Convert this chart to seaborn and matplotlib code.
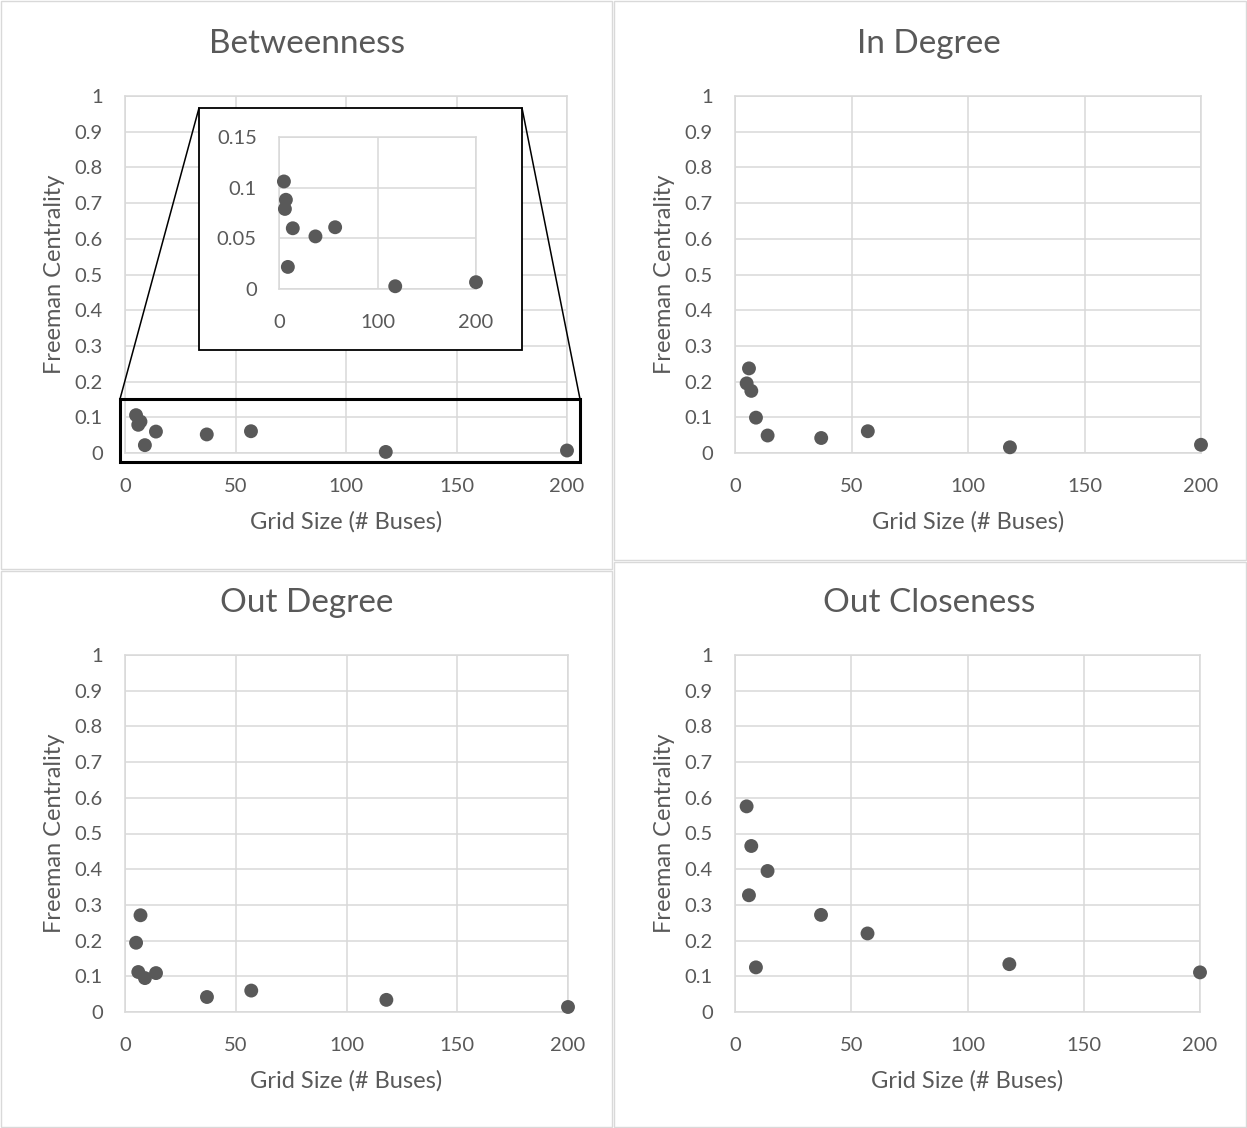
import matplotlib
matplotlib.use("Agg")
import matplotlib.pyplot as plt
import seaborn as sns
import pandas as pd
from matplotlib.patches import Rectangle
from matplotlib.lines import Line2D

# ---------------- data ----------------
grid_size = [5, 6, 7, 9, 14, 37, 57, 118, 200]
betweenness = [0.106, 0.079, 0.088, 0.022, 0.060, 0.052, 0.061, 0.003, 0.007]
in_degree = [0.195, 0.237, 0.174, 0.099, 0.049, 0.042, 0.061, 0.016, 0.023]
out_degree = [0.194, 0.112, 0.271, 0.095, 0.109, 0.042, 0.060, 0.034, 0.014]
out_closeness = [0.576, 0.327, 0.465, 0.125, 0.395, 0.272, 0.220, 0.134, 0.111]

titles = ["Betweenness", "In Degree", "Out Degree", "Out Closeness"]
x_label = "Grid Size (# Buses)"
y_label = "Freeman Centrality"
x_ticks = [0, 50, 100, 150, 200]
x_tick_labels = ["0", "50", "100", "150", "200"]
y_ticks = [0, 0.1, 0.2, 0.3, 0.4, 0.5, 0.6, 0.7, 0.8, 0.9, 1.0]
y_tick_labels = ["0", "0.1", "0.2", "0.3", "0.4", "0.5", "0.6", "0.7", "0.8", "0.9", "1"]
inset_x_ticks = [0, 100, 200]
inset_x_tick_labels = ["0", "100", "200"]
inset_y_ticks = [0, 0.05, 0.1, 0.15]
inset_y_tick_labels = ["0", "0.05", "0.1", "0.15"]

df = pd.DataFrame({
    "grid_size": grid_size,
    "Betweenness": betweenness,
    "In Degree": in_degree,
    "Out Degree": out_degree,
    "Out Closeness": out_closeness,
})

# ---------------- style ----------------
sns.set_theme(style="white")
plt.rcParams['font.family'] = ['Lato', 'DejaVu Sans']

TXT = "#595959"
GRID = "#d9d9d9"
DOT = "#595959"

W, H = 1247, 1128
fig = plt.figure(figsize=(W / 100, H / 100), dpi=100)
fig.patch.set_facecolor("white")


def box(l, t, r, b):
    return [l / W, 1 - b / H, (r - l) / W, (b - t) / H]


def fx(x):
    return x / W


def fy(y):
    return 1 - y / H


# panel frames (chart areas)
panels = [(0.75, 0.75, 612, 569), (614, 0.75, 1246.25, 560),
          (0.75, 571, 612, 1127.25), (614, 562, 1246.25, 1127.25)]
for (l, t, r, b) in panels:
    fig.add_artist(Rectangle((fx(l), fy(b)), fx(r) - fx(l), fy(t) - fy(b),
                             transform=fig.transFigure, fill=False,
                             edgecolor=GRID, linewidth=1.0, zorder=1))

axes_boxes = [(125, 96, 567, 453), (735, 96, 1201, 453),
              (125, 655, 568, 1012), (735, 655, 1200, 1012)]
title_pos = [(307, 44), (929, 44), (307, 603), (929, 603)]


def style_axes(ax, xt, xtl, yt, ytl, xlim, ylim, size, xpad, ypad):
    ax.set_xlim(*xlim)
    ax.set_ylim(*ylim)
    ax.set_xticks(xt)
    ax.set_xticklabels(xtl)
    ax.set_yticks(yt)
    ax.set_yticklabels(ytl)
    ax.grid(True, color=GRID, linewidth=1.1)
    ax.set_axisbelow(True)
    for s in ax.spines.values():
        s.set_visible(True)
        s.set_color(GRID)
        s.set_linewidth(1.1)
    ax.tick_params(axis="x", length=0, pad=xpad, labelsize=size, labelcolor=TXT)
    ax.tick_params(axis="y", length=0, pad=ypad, labelsize=size, labelcolor=TXT)


main_axes = []
for i, key in enumerate(titles):
    l, t, r, b = axes_boxes[i]
    ax = fig.add_axes(box(l, t, r, b))
    sns.scatterplot(data=df, x="grid_size", y=key, ax=ax, color=DOT, s=100,
                    edgecolor="none", linewidth=0, clip_on=False, zorder=3,
                    legend=False)
    style_axes(ax, x_ticks, x_tick_labels, y_ticks, y_tick_labels,
               (0, 200), (0, 1), 14.5, 18, 16)
    ax.set_xlabel(x_label, fontsize=17, color=TXT)
    ax.set_ylabel(y_label, fontsize=17, color=TXT)
    ax.xaxis.set_label_coords(0.5, -(58) / (b - t))
    ax.yaxis.set_label_coords(-(60) / (r - l), 0.5)
    fig.text(fx(title_pos[i][0]), fy(title_pos[i][1]), key, ha="center",
             va="center", fontsize=24, color=TXT)
    main_axes.append(ax)

# ---------------- zoom inset on Betweenness ----------------
fig.add_artist(Rectangle((fx(199), fy(350)), fx(522) - fx(199), fy(108) - fy(350),
                         transform=fig.transFigure, facecolor="white",
                         edgecolor="black", linewidth=1.3, zorder=2))
fig.add_artist(Rectangle((fx(120), fy(462)), fx(580) - fx(120), fy(399) - fy(462),
                         transform=fig.transFigure, fill=False,
                         edgecolor="black", linewidth=2.2, zorder=2))
fig.add_artist(Line2D([fx(199), fx(120)], [fy(108), fy(399)],
                      transform=fig.transFigure, color="black", linewidth=1.1, zorder=2))
fig.add_artist(Line2D([fx(522), fx(580)], [fy(108), fy(399)],
                      transform=fig.transFigure, color="black", linewidth=1.1, zorder=2))

axin = fig.add_axes(box(279, 136.7, 476, 289.3))
axin.set_zorder(5)
sns.scatterplot(data=df, x="grid_size", y="Betweenness", ax=axin, color=DOT,
                s=100, edgecolor="none", linewidth=0, clip_on=False, zorder=3,
                legend=False)
style_axes(axin, inset_x_ticks, inset_x_tick_labels, inset_y_ticks,
           inset_y_tick_labels, (0, 200), (0, 0.15), 14.5, 18, 16)
axin.set_xlabel("")
axin.set_ylabel("")

fig.savefig("out.png", dpi=100, facecolor="white")
